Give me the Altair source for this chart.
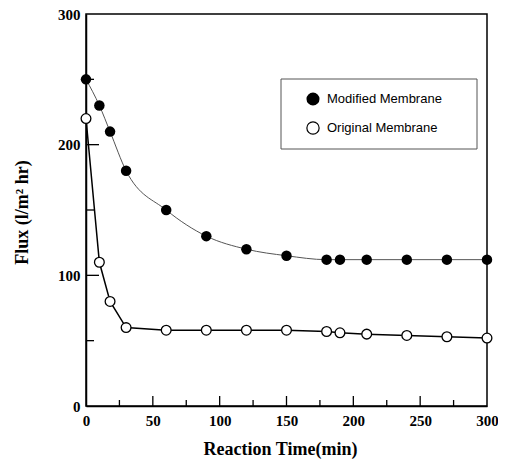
import altair as alt
import pandas as pd

# Data
time_min = [0, 10, 18, 30, 60, 90, 120, 150, 180, 190, 210, 240, 270, 300]
modified_flux = [250, 230, 210, 180, 150, 130, 120, 115, 112, 112, 112, 112, 112, 112]
original_flux = [220, 110, 80, 60, 58, 58, 58, 58, 57, 56, 55, 54, 53, 52]

x_ticks_major = [50, 100, 150, 200, 250]
x_ticks_minor = [25, 75, 125, 175, 225, 275]
y_ticks_major = [100, 200]
y_ticks_minor = [50, 150, 250]
x_labels = [0, 50, 100, 150, 200, 250, 300]
y_labels = [0, 100, 200, 300]

legend_names = ["Modified Membrane", "Original Membrane"]

W, H = 401, 392
SERIF = "Liberation Serif"
SANS = "Liberation Sans"

mod_df = pd.DataFrame({"t": time_min, "flux": modified_flux})
orig_df = pd.DataFrame({"t": time_min, "flux": original_flux})

xs = alt.Scale(domain=[0, 300], nice=False, zero=False)
ys = alt.Scale(domain=[0, 300], nice=False, zero=False)

x_axis = alt.Axis(values=x_labels, tickSize=0, labelPadding=7, grid=False, labelFlush=False,
                  labelFont=SERIF, labelFontWeight="bold", labelFontSize=15, labelColor="black",
                  domainColor="black", domainWidth=1.5,
                  title="Reaction Time(min)", titleFont=SERIF, titleFontWeight="bold",
                  titleFontSize=18, titleColor="black", titleX=194, titleY=34)
y_axis = alt.Axis(values=y_labels, tickSize=0, labelPadding=6, grid=False, labelFlush=False,
                  labelFont=SERIF, labelFontWeight="bold", labelFontSize=15, labelColor="black",
                  domainColor="black", domainWidth=1.5,
                  title="Flux (l/m² hr)", titleFont=SERIF, titleFontWeight="bold",
                  titleFontSize=18, titleColor="black", titleX=-55, titleY=198)

X = lambda f: alt.X(f, scale=xs, axis=x_axis)
Y = lambda f: alt.Y(f, scale=ys, axis=y_axis)

mod_line = alt.Chart(mod_df).mark_line(color="#555555", strokeWidth=1, interpolate="monotone").encode(
    x=X("t:Q"), y=Y("flux:Q"))
orig_line = alt.Chart(orig_df).mark_line(color="black", strokeWidth=1.5).encode(
    x=X("t:Q"), y=Y("flux:Q"))
mod_pts = alt.Chart(mod_df).mark_point(shape="circle", filled=True, color="black", size=110, opacity=1).encode(
    x=X("t:Q"), y=Y("flux:Q"))
orig_pts = alt.Chart(orig_df).mark_point(shape="circle", filled=False, fill="white", fillOpacity=1,
                                         stroke="black", strokeWidth=1.3, size=95, opacity=1).encode(
    x=X("t:Q"), y=Y("flux:Q"))

def xticks(vals, length):
    return alt.Chart(pd.DataFrame({"t": vals})).mark_rule(color="black", strokeWidth=1.3).encode(
        x=X("t:Q"), y=alt.value(H), y2=alt.value(H - length))

def yticks(vals, length):
    return alt.Chart(pd.DataFrame({"flux": vals})).mark_rule(color="black", strokeWidth=1.3).encode(
        y=Y("flux:Q"), x=alt.value(0), x2=alt.value(length))

one = pd.DataFrame({"a": [0]})
# Legend box (drawn manually)
leg_box = alt.Chart(one).mark_rect(fill="white", stroke="#555555", strokeWidth=1).encode(
    x=alt.value(195), x2=alt.value(391), y=alt.value(65), y2=alt.value(135))
leg_sym1 = alt.Chart(one).mark_point(shape="circle", filled=True, color="black", size=170, opacity=1).encode(
    x=alt.value(227), y=alt.value(85))
leg_sym2 = alt.Chart(one).mark_point(shape="circle", filled=False, fill="white", fillOpacity=1,
                                     stroke="black", strokeWidth=1.2, size=150, opacity=1).encode(
    x=alt.value(227), y=alt.value(114))
leg_txt1 = alt.Chart(one).mark_text(align="left", baseline="middle", font=SANS, fontSize=13,
                                    color="black", text=legend_names[0]).encode(
    x=alt.value(241), y=alt.value(85))
leg_txt2 = alt.Chart(one).mark_text(align="left", baseline="middle", font=SANS, fontSize=13,
                                    color="black", text=legend_names[1]).encode(
    x=alt.value(241), y=alt.value(114))

chart = alt.layer(
    mod_line, orig_line, mod_pts, orig_pts,
    xticks(x_ticks_major, 10), xticks(x_ticks_minor, 6),
    yticks(y_ticks_major, 13), yticks(y_ticks_minor, 8),
    leg_box, leg_sym1, leg_sym2, leg_txt1, leg_txt2,
).properties(
    width=W, height=H,
    background="white",
    autosize=alt.AutoSizeParams(type="none"),
    padding={"left": 78, "top": 6, "right": 11, "bottom": 56},
).configure_view(stroke="black", strokeWidth=1.5)

chart.save("out.html", embed_options={"renderer": "svg", "actions": False})
